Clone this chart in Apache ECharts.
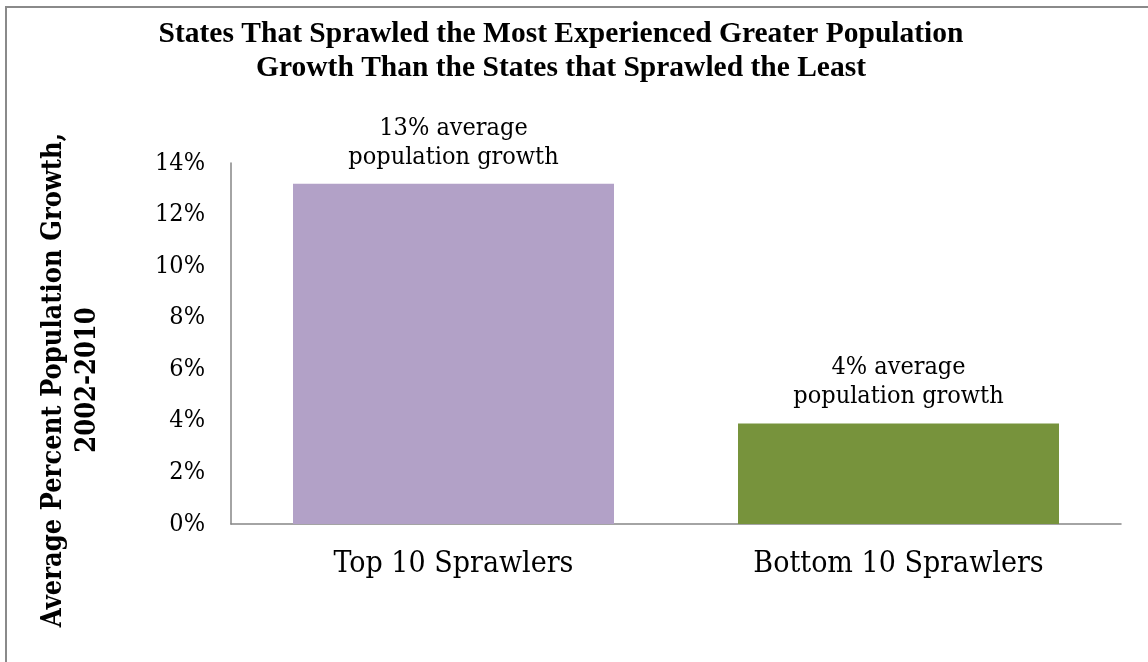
<!DOCTYPE html>
<html>
<head>
<meta charset="utf-8">
<title>Population growth of sprawling states</title>
<script src="https://cdn.jsdelivr.net/npm/echarts@6/dist/echarts.min.js"></script>
<style>
  html, body { margin: 0; padding: 0; background: #ffffff; }
  #chart { width: 1148px; height: 662px; }
</style>
</head>
<body>
<div id="chart"></div>
<script>
// Chart data
const categories = ['Top 10 Sprawlers', 'Bottom 10 Sprawlers'];
const growthValues = [13.2, 3.9];          // average percent population growth, 2002-2010
const barColors = ['#B2A1C7', '#77933C'];
const yTicks = { min: 0, max: 14, interval: 2 };

const titleLines = [
  'States That Sprawled the Most Experienced Greater Population',
  'Growth Than the States that Sprawled the Least'
];
const yNameLines = ['Average Percent Population Growth,', '2002-2010'];

const bodyFont = "'DejaVu Serif Condensed', 'DejaVu Serif', serif";
const titleFont = "'Liberation Serif', 'Times New Roman', serif";

const chart = echarts.init(document.getElementById('chart'), null, { renderer: 'canvas' });

chart.setOption({
  backgroundColor: '#ffffff',
  animation: false,
  title: {
    text: titleLines.join('\n'),
    left: 561,
    top: 12,
    textAlign: 'center',
    padding: [5, 0, 5, 0],
    textStyle: {
      fontFamily: titleFont,
      fontWeight: 'bold',
      fontSize: 29.5,
      lineHeight: 34,
      color: '#000000'
    }
  },
  grid: {
    left: 231,
    right: 27,
    top: 163,
    bottom: 138,
    containLabel: false
  },
  xAxis: {
    type: 'category',
    data: categories,
    axisLine: { show: true, lineStyle: { color: '#868686', width: 1.5 } },
    axisTick: { show: false },
    axisLabel: {
      margin: 25,
      fontFamily: bodyFont,
      fontSize: 30,
      color: '#000000'
    },
    splitLine: { show: false }
  },
  yAxis: {
    type: 'value',
    min: yTicks.min,
    max: yTicks.max,
    interval: yTicks.interval,
    axisLine: { show: true, lineStyle: { color: '#868686', width: 1.5 } },
    axisTick: { show: false },
    splitLine: { show: false },
    axisLabel: {
      margin: 26,
      formatter: '{value}%',
      fontFamily: bodyFont,
      fontSize: 25,
      color: '#000000'
    }
  },
  series: [{
    type: 'bar',
    barWidth: 321,
    data: growthValues.map((v, i) => ({ value: v, itemStyle: { color: barColors[i] } })),
    label: {
      show: true,
      position: 'top',
      distance: 12,
      formatter: p => Math.round(p.value) + '% average\npopulation growth',
      fontFamily: bodyFont,
      fontSize: 25,
      lineHeight: 29,
      color: '#000000'
    }
  }],
  graphic: [
    // frame edges along the top and left
    {
      type: 'line',
      shape: { x1: 6, y1: 7, x2: 1148, y2: 7 },
      style: { stroke: '#8a8a8a', lineWidth: 2 },
      silent: true
    },
    {
      type: 'line',
      shape: { x1: 6, y1: 6, x2: 6, y2: 662 },
      style: { stroke: '#8a8a8a', lineWidth: 2 },
      silent: true
    },
    // y-axis title
    {
      type: 'text',
      x: 71,
      y: 380,
      rotation: Math.PI / 2,
      style: {
        text: yNameLines.join('\n'),
        align: 'center',
        verticalAlign: 'middle',
        fontFamily: bodyFont,
        fontWeight: 'bold',
        fontSize: 27,
        lineHeight: 34,
        fill: '#000000'
      },
      silent: true
    }
  ]
});
</script>
</body>
</html>
